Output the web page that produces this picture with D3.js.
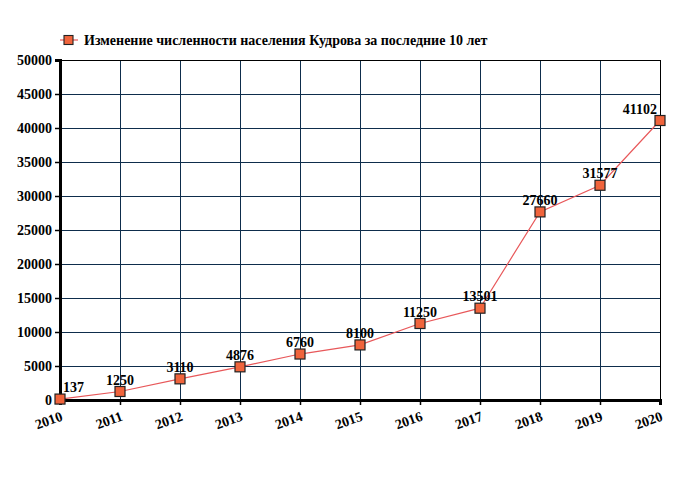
<!DOCTYPE html>
<html><head><meta charset="utf-8">
<script src="https://cdn.jsdelivr.net/npm/d3@7"></script>
<style>body{margin:0;background:#fff}svg{display:block}text{font-family:"Liberation Serif","Times New Roman",serif;font-weight:bold;fill:#000}</style>
</head><body>
<svg id="c" width="680" height="500"></svg>
<script>
const years = [2010,2011,2012,2013,2014,2015,2016,2017,2018,2019,2020];
const population = [137,1250,3110,4876,6760,8100,11250,13501,27660,31577,41102];
const yTicks = [0,5000,10000,15000,20000,25000,30000,35000,40000,45000,50000];
const seriesName = "Изменение численности населения Кудрова за последние 10 лет";

const svg = d3.select("#c");
const L=60,R=660,T=60,B=400;
const x = d3.scaleLinear().domain([2010,2020]).range([L,R]);
const y = d3.scaleLinear().domain([0,50000]).range([B,T]);
const grid="#0e2d4c";

// grid
svg.append("g").attr("shape-rendering","crispEdges").selectAll("line").data(years.slice(1)).join("line")
  .attr("x1",d=>x(d)+0.5).attr("x2",d=>x(d)+0.5).attr("y1",T).attr("y2",B)
  .attr("stroke",grid).attr("stroke-width",1);
svg.append("g").attr("shape-rendering","crispEdges").selectAll("line").data(yTicks.slice(1,-1)).join("line")
  .attr("x1",L).attr("x2",R).attr("y1",d=>y(d)+0.5).attr("y2",d=>y(d)+0.5)
  .attr("stroke",grid).attr("stroke-width",1);
// frame
svg.append("line").attr("x1",L).attr("x2",R+1).attr("y1",T+0.5).attr("y2",T+0.5).attr("stroke","#000").attr("stroke-width",1.5).attr("shape-rendering","crispEdges");
svg.append("line").attr("x1",R+0.5).attr("x2",R+0.5).attr("y1",T).attr("y2",B).attr("stroke","#000").attr("stroke-width",1).attr("shape-rendering","crispEdges");
// axes
const yAxis = d3.axisLeft(y).tickValues(yTicks).tickSize(5).tickPadding(3).tickFormat(d=>d);
const ya = svg.append("g").attr("transform",`translate(${L},0)`).call(yAxis);
ya.select(".domain").attr("stroke","#000").attr("stroke-width",3);
ya.selectAll(".tick line").attr("stroke","#000").attr("stroke-width",1.5);
ya.selectAll("text").style("font-size","14px").attr("dy","0.35em");

const xAxis = d3.axisBottom(x).tickValues(years).tickSize(5).tickFormat(d=>d);
const xa = svg.append("g").attr("transform",`translate(0,${B})`).call(xAxis);
xa.select(".domain").attr("stroke","#000").attr("stroke-width",3);
xa.selectAll(".tick line").attr("stroke","#000").attr("stroke-width",1.5);
xa.selectAll("text").style("font-size","14px").attr("text-anchor","end")
  .attr("y",0).attr("dy",0).attr("transform","translate(3,20) rotate(-20)");

// line
svg.append("path").datum(years.map((d,i)=>[d,population[i]]))
  .attr("d",d3.line().x(d=>x(d[0])).y(d=>y(d[1])))
  .attr("fill","none").attr("stroke","#e8585a").attr("stroke-width",1.2);
// markers
svg.append("g").selectAll("rect").data(years).join("rect")
  .attr("x",d=>x(d)-5).attr("y",(d,i)=>y(population[i])-5).attr("width",10).attr("height",10)
  .attr("fill","#f0643c").attr("stroke","#222").attr("stroke-width",1.2);
// labels
svg.append("g").selectAll("text").data(years).join("text")
  .attr("x",(d,i)=> i===0 ? x(d)+3 : i===years.length-1 ? x(d)-3 : x(d))
  .attr("y",(d,i)=>y(population[i])-7)
  .attr("text-anchor",(d,i)=> i===0?"start": i===years.length-1?"end":"middle")
  .style("font-size","14px").text((d,i)=>population[i]);

// legend
const lg = svg.append("g");
lg.append("line").attr("x1",60).attr("x2",78).attr("y1",40).attr("y2",40).attr("stroke","#e8585a").attr("stroke-width",1.2);
lg.append("rect").attr("x",64).attr("y",35.5).attr("width",9).attr("height",9).attr("fill","#f0643c").attr("stroke","#222").attr("stroke-width",1.1);
lg.append("text").attr("x",84).attr("y",45).style("font-size","14px").text(seriesName);
</script>
</body></html>
